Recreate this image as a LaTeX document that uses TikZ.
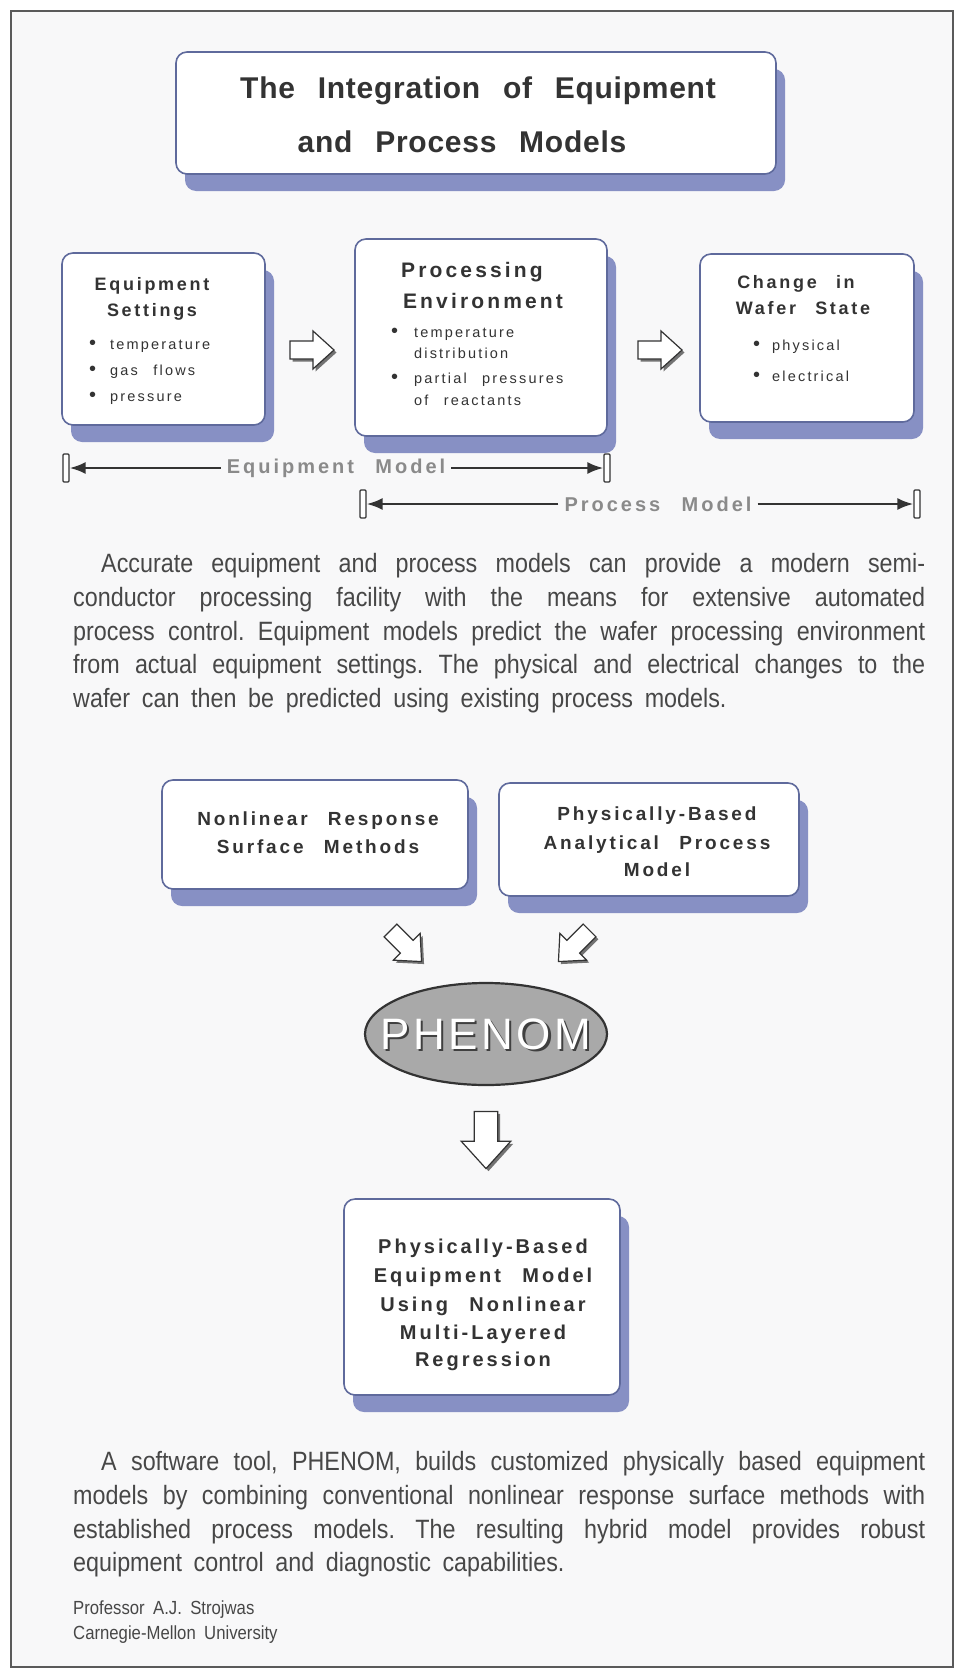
\documentclass[tikz,border=0pt]{standalone}
\usepackage{fontspec}
\setmainfont{Liberation Sans}
\newfontfamily\parafont[FakeStretch=0.88,WordSpace=1.8]{Liberation Sans}
\newfontfamily\boxfont[LetterSpace=15,WordSpace=2.5]{Liberation Sans}
\newfontfamily\titlefont[LetterSpace=2.5,WordSpace=2.5]{Liberation Sans}
\newfontfamily\phenomfont[LetterSpace=8]{Liberation Sans}
\newfontfamily\bulletfont{Liberation Sans}
\newcommand\bul{{\bulletfont\fontsize{20}{20}\selectfont •}}
\usetikzlibrary{shapes.geometric,arrows.meta}
\definecolor{paper}{HTML}{F8F8F9}
\definecolor{framec}{HTML}{5A5A5A}
\definecolor{boxline}{HTML}{5F6A9C}
\definecolor{shade}{HTML}{8790C4}
\definecolor{ink}{HTML}{333333}
\definecolor{paraink}{HTML}{474747}
\definecolor{labink}{HTML}{8A8A8A}
\definecolor{ovalfill}{HTML}{A9A9A9}
\tikzset{
  panel/.style={draw=boxline,line width=1.6pt,fill=white,rounded corners=11pt,inner sep=0pt},
  panelshade/.style={fill=shade,rounded corners=11pt},
  head/.style={anchor=base,inner sep=0pt,text=ink,font=\boxfont\bfseries\fontsize{18}{22}\selectfont},
  bighead/.style={head,font=\boxfont\bfseries\fontsize{21}{24}\selectfont},
  lowhead/.style={head,font=\boxfont\bfseries\fontsize{19}{22}\selectfont},
  finhead/.style={head,font=\boxfont\bfseries\fontsize{20}{22}\selectfont},
  item/.style={anchor=base west,inner sep=0pt,text=ink,font=\boxfont\fontsize{14.5}{17}\selectfont},
  titletext/.style={anchor=base,inner sep=0pt,text=ink,font=\titlefont\bfseries\fontsize{30}{34}\selectfont},
  brk/.style={draw=ink,line width=1.3pt,fill=white,minimum width=6pt,minimum height=28pt,inner sep=0pt,rounded corners=1pt},
  mlabel/.style={inner sep=6pt,text=labink,font=\boxfont\bfseries\fontsize{20}{24}\selectfont},
  marrow/.style={draw=ink,line width=2.4pt,-{Latex[length=16pt,width=12pt]}},
  para/.style={anchor=north west,inner sep=0pt,text width=852pt,align=justify,text=paraink,
    font=\parafont\fontsize{26.5}{33.8}\selectfont},
  sig/.style={anchor=base west,inner sep=0pt,text=paraink,font=\parafont\fontsize{19}{22}\selectfont},
  arrbody/.style={fill=white,draw=ink,line width=1.2pt,line join=miter},
  arrshadow/.style={fill=black!55},
  oval/.style={ellipse,draw=black!80,line width=2.2pt,fill=ovalfill,minimum width=242pt,minimum height=102pt,inner sep=0pt},
  phenomtxt/.style={inner sep=0pt,font=\phenomfont\fontsize{44}{48}\selectfont},
}
\newcommand\panelbox[5]{%
  \fill[panelshade] ({#2+9},{#3+17}) rectangle ({#4+9},{#5+17});
  \node[panel,minimum width={#4-#2},minimum height={#5-#3}] (#1) at ({(#2+#4)/2},{(#3+#5)/2}) {};}
\newcommand\harrowat[4]{%
  \fill[arrshadow,shift={(#1+2.5,#2+2.5)},rotate=#3,scale=#4]
    (-22,-9) -- (1,-9) -- (1,-19) -- (22,0) -- (1,19) -- (1,9) -- (-22,9) -- cycle;
  \filldraw[arrbody,shift={(#1,#2)},rotate=#3,scale=#4]
    (-22,-9) -- (1,-9) -- (1,-19) -- (22,0) -- (1,19) -- (1,9) -- (-22,9) -- cycle;}
\begin{document}
\begin{tikzpicture}[x=1pt,y=-1pt]
\useasboundingbox (0,0) rectangle (964,1675);
\fill[white] (0,0) rectangle (964,1675);
\filldraw[fill=paper,draw=framec,line width=2.5pt] (11,11) rectangle (953,1667);

% title
\panelbox{title}{176}{52}{776}{174}
\node[titletext] (t1) at (478,99) {The Integration of Equipment};
\node[titletext] (t2) at (462,152) {and Process Models};

% equipment settings
\panelbox{eqs}{62}{253}{265}{425}
\node[head] (eqs1) at (152,290) {Equipment};
\node[head] (eqs2) at (152,316) {Settings};
\node[item] (eqsa) at (89,349) {\makebox[21pt][l]{\bul}temperature};
\node[item] (eqsb) at (89,375) {\makebox[21pt][l]{\bul}gas flows};
\node[item] (eqsc) at (89,401) {\makebox[21pt][l]{\bul}pressure};

% processing environment
\panelbox{env}{355}{239}{607}{436}
\node[bighead] (env1) at (472,277) {Processing};
\node[bighead] (env2) at (483,308) {Environment};
\node[item] (enva) at (391,337) {\makebox[23pt][l]{\bul}temperature};
\node[item] (envb) at (414,358) {distribution};
\node[item] (envc) at (391,383) {\makebox[23pt][l]{\bul}partial pressures};
\node[item] (envd) at (414,405) {of reactants};

% change in wafer state
\panelbox{wafer}{700}{254}{914}{422}
\node[head] (w1) at (796,288) {Change in};
\node[head] (w2) at (803,314) {Wafer State};
\node[item] (wa) at (753,350) {\makebox[19pt][l]{\bul}physical};
\node[item] (wb) at (753,381) {\makebox[19pt][l]{\bul}electrical};

\harrowat{312}{350}{0}{1}
\harrowat{660}{350}{0}{1}

% model ranges
\node[brk] (b1) at (66,468) {};
\node[brk] (b2) at (607,468) {};
\node[mlabel] (eqm) at (336,468) {Equipment Model};
\draw[marrow] (eqm) -- (b1);
\draw[marrow] (eqm) -- (b2);
\node[brk] (b3) at (363,504) {};
\node[brk] (b4) at (917,504) {};
\node[mlabel] (prm) at (658,504) {Process Model};
\draw[marrow] (prm) -- (b3);
\draw[marrow] (prm) -- (b4);

\node[para] (p1) at (73,553) {\frenchspacing\hyphenpenalty=10000\tolerance=10000\noindent\hspace*{28pt}Accurate equipment and process models can provide a modern semi-\linebreak
conductor processing facility with the means for extensive automated\linebreak
process control. Equipment models predict the wafer processing environment\linebreak
from actual equipment settings. The physical and electrical changes to the\linebreak
wafer can then be predicted using existing process models.};

% lower part
\panelbox{nrsm}{162}{780}{468}{889}
\node[lowhead] (n1) at (318,825) {Nonlinear Response};
\node[lowhead] (n2) at (318,853) {Surface Methods};
\panelbox{pbap}{499}{783}{799}{896}
\node[lowhead] (q1) at (657,820) {Physically-Based};
\node[lowhead] (q2) at (657,849) {Analytical Process};
\node[lowhead] (q3) at (657,876) {Model};

\harrowat{406}{946}{-45}{1}
\harrowat{574}{946}{-135}{1}

\node[oval] (phenom) at (486,1034) {};
\node[phenomtxt,text=black!75] (phs) at ([shift={(2.2,2.2)}]phenom.center) {PHENOM};
\node[phenomtxt,text=white] (pht) at (phenom.center) {PHENOM};

\harrowat{486}{1140}{-90}{1.3}

\panelbox{final}{344}{1199}{620}{1395}
\node[finhead] (f1) at (483,1253) {Physically-Based};
\node[finhead] (f2) at (483,1282) {Equipment Model};
\node[finhead] (f3) at (483,1311) {Using Nonlinear};
\node[finhead] (f4) at (483,1339) {Multi-Layered};
\node[finhead] (f5) at (483,1366) {Regression};

\node[para] (p2) at (73,1451) {\frenchspacing\hyphenpenalty=10000\tolerance=10000\noindent\hspace*{28pt}A software tool, PHENOM, builds customized physically based equipment\linebreak
models by combining conventional nonlinear response surface methods with\linebreak
established process models. The resulting hybrid model provides robust\linebreak
equipment control and diagnostic capabilities.};

\node[sig] (s1) at (73,1614) {Professor A.J. Strojwas};
\node[sig] (s2) at (73,1639) {Carnegie-Mellon University};
\end{tikzpicture}
\end{document}
